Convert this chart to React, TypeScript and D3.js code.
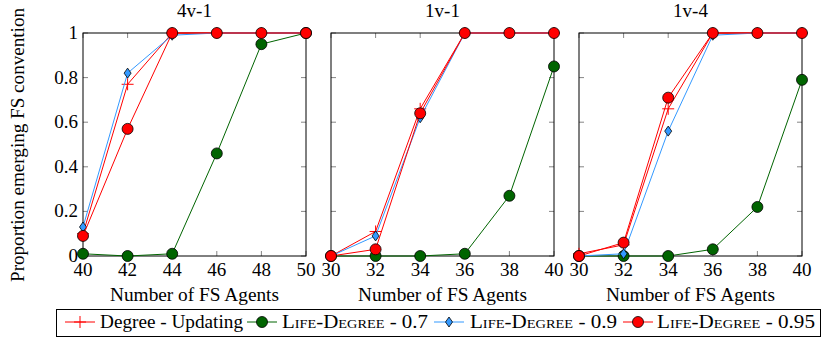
import React from "react";
import * as d3 from "d3";

const panelTitles = ["4v-1", "1v-1", "1v-4"];
const panelX = [
  [40, 42, 44, 46, 48, 50],
  [30, 32, 34, 36, 38, 40],
  [30, 32, 34, 36, 38, 40],
];
const seriesNames = ["Degree - Updating", "Life-Degree - 0.7", "Life-Degree - 0.9", "Life-Degree - 0.95"];
const degreeUpdating = [
  [0.1, 0.77, 1, 1, 1, 1],
  [0, 0.11, 0.66, 1, 1, 1],
  [0.01, 0.05, 0.66, 1, 1, 1],
];
const lifeDegree07 = [
  [0.01, 0.0, 0.01, 0.46, 0.95, 1],
  [0, 0, 0, 0.01, 0.27, 0.85],
  [0, 0, 0, 0.03, 0.22, 0.79],
];
const lifeDegree09 = [
  [0.13, 0.82, 0.99, 1, 1, 1],
  [0, 0.09, 0.62, 1, 1, 1],
  [0, 0.01, 0.56, 0.99, 1, 1],
];
const lifeDegree095 = [
  [0.09, 0.57, 1, 1, 1, 1],
  [0, 0.03, 0.64, 1, 1, 1],
  [0, 0.06, 0.71, 1, 1, 1],
];
const yTicks = [0, 0.2, 0.4, 0.6, 0.8, 1];
const yTickLabels = ["0", "0.2", "0.4", "0.6", "0.8", "1"];

const colors = ["#ff0000", "#006400", "#3399ff", "#ff0000"];
const markers = ["plus", "circle", "diamond", "circle"];

const FONT = "Liberation Serif";
const FS = 19;

function Marker({ type, x, y, color }: { type: string; x: number; y: number; color: string }) {
  if (type === "plus")
    return (
      <path d={`M${x - 6},${y}H${x + 6}M${x},${y - 6}V${y + 6}`} stroke={color} strokeWidth={1} fill="none" />
    );
  if (type === "circle")
    return <circle cx={x} cy={y} r={5.5} fill={color} stroke="#000" strokeWidth={0.8} />;
  return (
    <path d={`M${x},${y - 5}L${x + 3.5},${y}L${x},${y + 5}L${x - 3.5},${y}Z`} fill={color} stroke="#000" strokeWidth={0.8} />
  );
}

function Panel({ idx, left }: { idx: number; left: number }) {
  const top = 33;
  const w = 223;
  const h = 223;
  const xs = panelX[idx];
  const x = d3.scaleLinear().domain([xs[0], xs[xs.length - 1]]).range([left, left + w]);
  const y = d3.scaleLinear().domain([0, 1]).range([top + h, top]);
  const data = [degreeUpdating[idx], lifeDegree07[idx], lifeDegree09[idx], lifeDegree095[idx]];
  const line = d3
    .line<number>()
    .x((_, i) => x(xs[i]))
    .y((d) => y(d));
  const tl = 5;
  return (
    <g>
      <text x={left + w / 2} y={17} textAnchor="middle" fontFamily={FONT} fontSize={FS}>
        {panelTitles[idx]}
      </text>
      {xs.map((v) => (
        <g key={"xt" + v}>
          <line x1={x(v)} x2={x(v)} y1={top + h} y2={top + h - tl} stroke="#666" strokeWidth={0.8} />
          <line x1={x(v)} x2={x(v)} y1={top} y2={top + tl} stroke="#666" strokeWidth={0.8} />
          <text x={x(v)} y={top + h + 20} textAnchor="middle" fontFamily={FONT} fontSize={FS}>
            {v}
          </text>
        </g>
      ))}
      {yTicks.map((v, i) => (
        <g key={"yt" + v}>
          <line x1={left} x2={left + tl} y1={y(v)} y2={y(v)} stroke="#666" strokeWidth={0.8} />
          <line x1={left + w} x2={left + w - tl} y1={y(v)} y2={y(v)} stroke="#666" strokeWidth={0.8} />
          {idx === 0 && (
            <text x={left - 5} y={y(v) + 6} textAnchor="end" fontFamily={FONT} fontSize={FS}>
              {yTickLabels[i]}
            </text>
          )}
        </g>
      ))}
      <rect x={left} y={top} width={w} height={h} fill="none" stroke="#000" strokeWidth={1} />
      {data.map((d, s) => (
        <g key={"s" + s}>
          <path d={line(d) || ""} fill="none" stroke={colors[s]} strokeWidth={1} />
          {d.map((v, i) => (
            <Marker key={i} type={markers[s]} x={x(xs[i])} y={y(v)} color={colors[s]} />
          ))}
        </g>
      ))}
      <text
        x={left + w / 2}
        y={301}
        textAnchor="middle"
        fontFamily={FONT}
        fontSize={FS}
        textLength={169}
        lengthAdjust="spacingAndGlyphs"
      >
        Number of FS Agents
      </text>
    </g>
  );
}

function LegendLabel({ name, x, len }: { name: string; x: number; len: number }) {
  if (name.startsWith("Life-Degree")) {
    const rest = name.slice("Life-Degree".length);
    return (
      <text x={x} y={328} fontFamily={FONT} fontSize={FS} textLength={len} lengthAdjust="spacingAndGlyphs">
        <tspan style={{ fontVariant: "small-caps" }}>Life-Degree</tspan>
        {rest}
      </text>
    );
  }
  return (
    <text x={x} y={328} fontFamily={FONT} fontSize={FS} textLength={len} lengthAdjust="spacingAndGlyphs">
      {name}
    </text>
  );
}

export default function App() {
  const lefts = [83, 331, 579];
  const legendItems = [
    { lx: 65, tx: 100, len: 143 },
    { lx: 247, tx: 282, len: 146 },
    { lx: 434, tx: 470, len: 147 },
    { lx: 623, tx: 657, len: 158 },
  ];
  return (
    <svg width={822} height={341} style={{ position: "absolute", left: 0, top: 0 }}>
      <rect width={822} height={341} fill="#fff" />
      <text
        transform="translate(24,145) rotate(-90)"
        textAnchor="middle"
        fontFamily={FONT}
        fontSize={FS}
        textLength={274}
        lengthAdjust="spacingAndGlyphs"
      >
        Proportion emerging FS convention
      </text>
      {lefts.map((l, i) => (
        <Panel key={i} idx={i} left={l} />
      ))}
      <rect x={56.5} y={309.5} width={764} height={27} fill="#fff" stroke="#000" strokeWidth={1} />
      {legendItems.map((it, s) => (
        <g key={s}>
          <line x1={it.lx} x2={it.lx + 30} y1={322} y2={322} stroke={colors[s]} strokeWidth={1} />
          <Marker type={markers[s]} x={it.lx + 15} y={322} color={colors[s]} />
          <LegendLabel name={seriesNames[s]} x={it.tx} len={it.len} />
        </g>
      ))}
    </svg>
  );
}
